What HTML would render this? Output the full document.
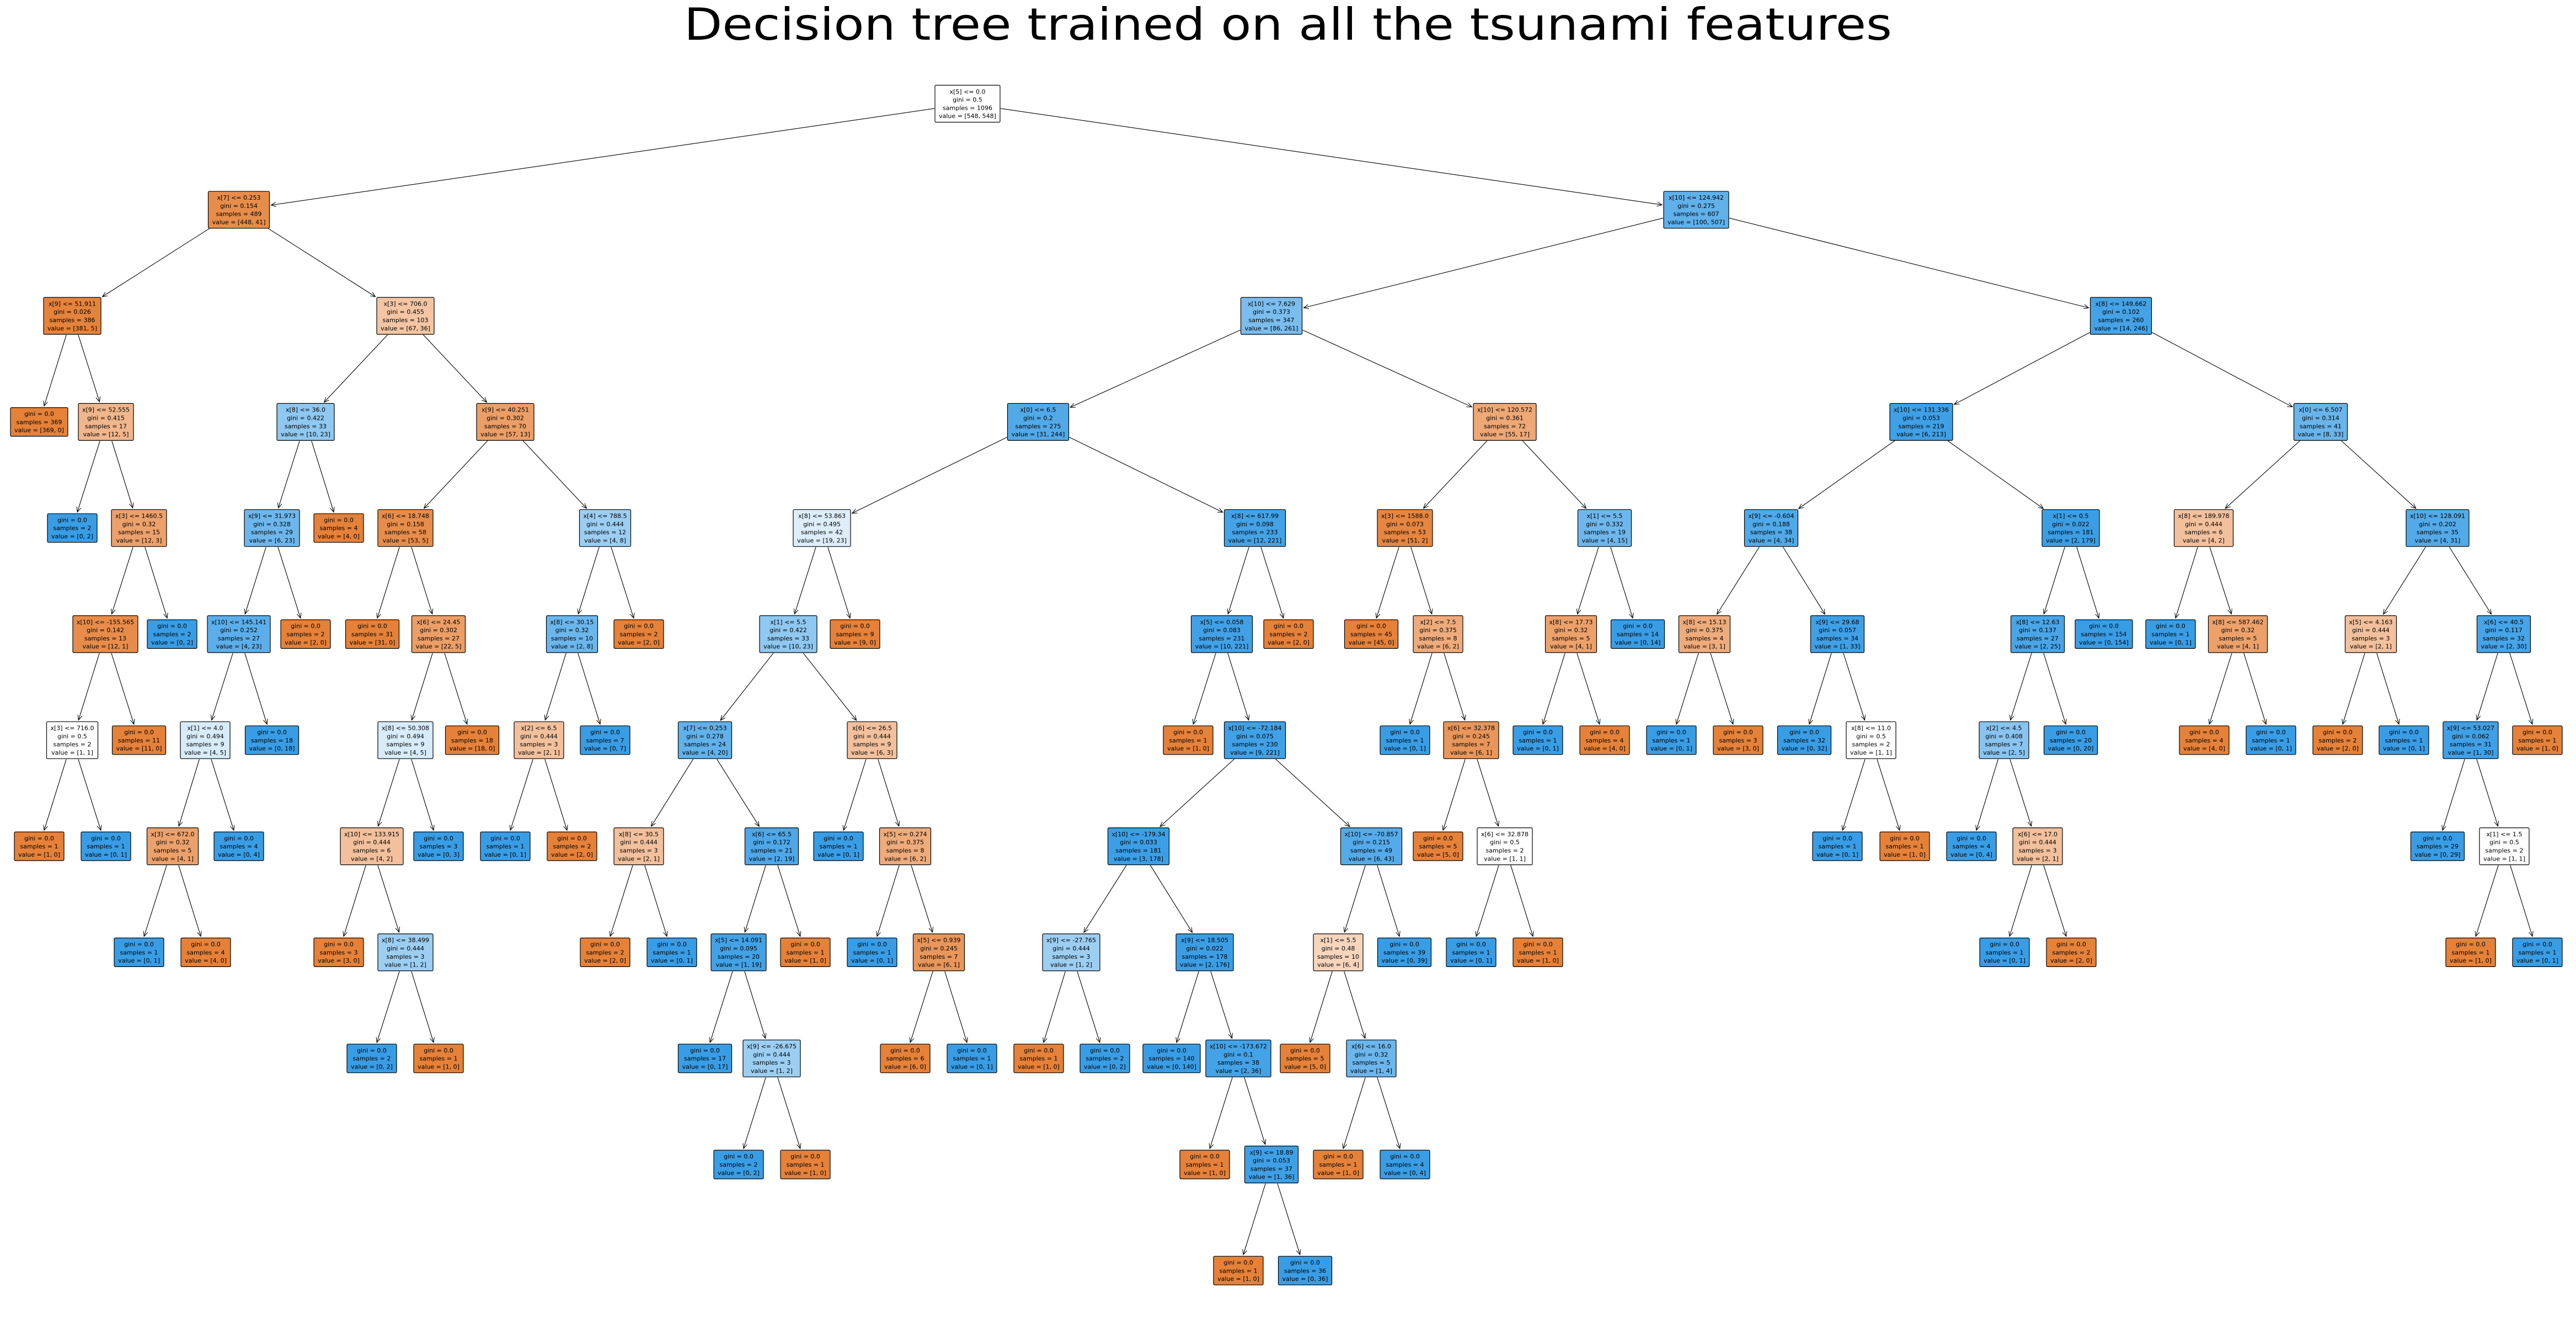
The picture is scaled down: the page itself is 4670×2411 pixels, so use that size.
<!DOCTYPE html>
<html>
<head>
<meta charset="utf-8">
<style>
html,body{margin:0;padding:0;background:#fff;}
svg{display:block;}
text{font-family:"DejaVu Sans","Liberation Sans",sans-serif;}
</style>
</head>
<body>
<svg id="s" xmlns="http://www.w3.org/2000/svg" width="4670" height="2411" viewBox="0 0 4670 2411">
<defs>
<marker id="ah" markerWidth="12" markerHeight="10" refX="10" refY="5" orient="auto" markerUnits="userSpaceOnUse">
<path d="M1,1 L10,5 L1,9" fill="none" stroke="#000" stroke-width="1"/>
</marker>
</defs>
<rect width="4670" height="2411" fill="#fff"/>
<text x="2335" y="72" text-anchor="middle" font-size="80" fill="#000" textLength="2190" lengthAdjust="spacingAndGlyphs">Decision tree trained on all the tsunami features</text>
<g id="edges"></g>
<g id="nodes"></g>
</svg>
<script>
var D=[
[-1,0,1754,"x[5] <= 0.0","0.5",1096,548,548],
[0,1,433,"x[7] <= 0.253","0.154",489,448,41],
[0,1,3075,"x[10] <= 124.942","0.275",607,100,507],
[1,2,131,"x[9] <= 51.911","0.026",386,381,5],
[1,2,735,"x[3] <= 706.0","0.455",103,67,36],
[2,2,2305,"x[10] <= 7.629","0.373",347,86,261],
[2,2,3845,"x[8] <= 149.662","0.102",260,14,246],
[3,3,71,null,"0.0",369,369,0],
[3,3,192,"x[9] <= 52.555","0.415",17,12,5],
[4,3,554,"x[8] <= 36.0","0.422",33,10,23],
[4,3,916,"x[9] <= 40.251","0.302",70,57,13],
[5,3,1882,"x[0] <= 6.5","0.2",275,31,244],
[5,3,2728,"x[10] <= 120.572","0.361",72,55,17],
[6,3,3483,"x[10] <= 131.336","0.053",219,6,213],
[6,3,4207,"x[0] <= 6.507","0.314",41,8,33],
[8,4,131,null,"0.0",2,0,2],
[8,4,252,"x[3] <= 1460.5","0.32",15,12,3],
[9,4,493,"x[9] <= 31.973","0.328",29,6,23],
[9,4,614,null,"0.0",4,4,0],
[10,4,735,"x[6] <= 18.748","0.158",58,53,5],
[10,4,1097,"x[4] <= 788.5","0.444",12,4,8],
[11,4,1490,"x[8] <= 53.863","0.495",42,19,23],
[11,4,2275,"x[8] <= 617.99","0.098",233,12,221],
[12,4,2547,"x[3] <= 1588.0","0.073",53,51,2],
[12,4,2909,"x[1] <= 5.5","0.332",19,4,15],
[13,4,3211,"x[9] <= -0.604","0.188",38,4,34],
[13,4,3754,"x[1] <= 0.5","0.022",181,2,179],
[14,4,3995,"x[8] <= 189.978","0.444",6,4,2],
[14,4,4419,"x[10] <= 128.091","0.202",35,4,31],
[16,5,191,"x[10] <= -155.565","0.142",13,12,1],
[16,5,312,null,"0.0",2,0,2],
[17,5,433,"x[10] <= 145.141","0.252",27,4,23],
[17,5,554,null,"0.0",2,2,0],
[19,5,675,null,"0.0",31,31,0],
[19,5,795,"x[6] <= 24.45","0.302",27,22,5],
[20,5,1037,"x[8] <= 30.15","0.32",10,2,8],
[20,5,1158,null,"0.0",2,2,0],
[21,5,1429,"x[1] <= 5.5","0.422",33,10,23],
[21,5,1550,null,"0.0",9,9,0],
[22,5,2215,"x[5] <= 0.058","0.083",231,10,221],
[22,5,2336,null,"0.0",2,2,0],
[23,5,2486,null,"0.0",45,45,0],
[23,5,2607,"x[2] <= 7.5","0.375",8,6,2],
[24,5,2848,"x[8] <= 17.73","0.32",5,4,1],
[24,5,2969,null,"0.0",14,0,14],
[25,5,3090,"x[8] <= 15.13","0.375",4,3,1],
[25,5,3331,"x[9] <= 29.68","0.057",34,1,33],
[26,5,3694,"x[8] <= 12.63","0.137",27,2,25],
[26,5,3814,null,"0.0",154,0,154],
[27,5,3935,null,"0.0",1,0,1],
[27,5,4057,"x[8] <= 587.462","0.32",5,4,1],
[28,5,4298,"x[5] <= 4.163","0.444",3,2,1],
[28,5,4539,"x[6] <= 40.5","0.117",32,2,30],
[29,6,131,"x[3] <= 716.0","0.5",2,1,1],
[29,6,252,null,"0.0",11,11,0],
[31,6,372,"x[1] <= 4.0","0.494",9,4,5],
[31,6,493,null,"0.0",18,0,18],
[34,6,735,"x[8] <= 50.308","0.494",9,4,5],
[34,6,856,null,"0.0",18,18,0],
[35,6,977,"x[2] <= 6.5","0.444",3,2,1],
[35,6,1097,null,"0.0",7,0,7],
[37,6,1278,"x[7] <= 0.253","0.278",24,4,20],
[37,6,1581,"x[6] <= 26.5","0.444",9,6,3],
[39,6,2154,null,"0.0",1,1,0],
[39,6,2275,"x[10] <= -72.184","0.075",230,9,221],
[42,6,2547,null,"0.0",1,0,1],
[42,6,2667,"x[6] <= 32.378","0.245",7,6,1],
[43,6,2788,null,"0.0",1,0,1],
[43,6,2909,null,"0.0",4,4,0],
[45,6,3030,null,"0.0",1,0,1],
[45,6,3151,null,"0.0",3,3,0],
[46,6,3271,null,"0.0",32,0,32],
[46,6,3392,"x[8] <= 11.0","0.5",2,1,1],
[47,6,3633,"x[2] <= 4.5","0.408",7,2,5],
[47,6,3754,null,"0.0",20,0,20],
[50,6,3996,null,"0.0",4,4,0],
[50,6,4117,null,"0.0",1,0,1],
[51,6,4238,null,"0.0",2,2,0],
[51,6,4358,null,"0.0",1,0,1],
[52,6,4479,"x[9] <= 53.027","0.062",31,1,30],
[52,6,4600,null,"0.0",1,1,0],
[53,7,71,null,"0.0",1,1,0],
[53,7,192,null,"0.0",1,0,1],
[55,7,313,"x[3] <= 672.0","0.32",5,4,1],
[55,7,433,null,"0.0",4,0,4],
[57,7,674,"x[10] <= 133.915","0.444",6,4,2],
[57,7,795,null,"0.0",3,0,3],
[59,7,916,null,"0.0",1,0,1],
[59,7,1037,null,"0.0",2,2,0],
[61,7,1158,"x[8] <= 30.5","0.444",3,2,1],
[61,7,1399,"x[6] <= 65.5","0.172",21,2,19],
[62,7,1520,null,"0.0",1,0,1],
[62,7,1641,"x[5] <= 0.274","0.375",8,6,2],
[64,7,2064,"x[10] <= -179.34","0.033",181,3,178],
[64,7,2486,"x[10] <= -70.857","0.215",49,6,43],
[66,7,2607,null,"0.0",5,5,0],
[66,7,2728,"x[6] <= 32.878","0.5",2,1,1],
[72,7,3331,null,"0.0",1,0,1],
[72,7,3453,null,"0.0",1,1,0],
[73,7,3574,null,"0.0",4,0,4],
[73,7,3694,"x[6] <= 17.0","0.444",3,2,1],
[79,7,4419,null,"0.0",29,0,29],
[79,7,4540,"x[1] <= 1.5","0.5",2,1,1],
[83,8,252,null,"0.0",1,0,1],
[83,8,373,null,"0.0",4,4,0],
[85,8,614,null,"0.0",3,3,0],
[85,8,735,"x[8] <= 38.499","0.444",3,1,2],
[89,8,1097,null,"0.0",2,2,0],
[89,8,1218,null,"0.0",1,0,1],
[90,8,1339,"x[5] <= 14.091","0.095",20,1,19],
[90,8,1460,null,"0.0",1,1,0],
[92,8,1581,null,"0.0",1,0,1],
[92,8,1702,"x[5] <= 0.939","0.245",7,6,1],
[93,8,1942,"x[9] <= -27.765","0.444",3,1,2],
[93,8,2184,"x[9] <= 18.505","0.022",178,2,176],
[94,8,2426,"x[1] <= 5.5","0.48",10,6,4],
[94,8,2546,null,"0.0",39,0,39],
[96,8,2667,null,"0.0",1,0,1],
[96,8,2788,null,"0.0",1,1,0],
[100,8,3634,null,"0.0",1,0,1],
[100,8,3755,null,"0.0",2,2,0],
[102,8,4479,null,"0.0",1,1,0],
[102,8,4600,null,"0.0",1,0,1],
[106,9,674,null,"0.0",2,0,2],
[106,9,795,null,"0.0",1,1,0],
[109,9,1278,null,"0.0",17,0,17],
[109,9,1399,"x[9] <= -26.675","0.444",3,1,2],
[112,9,1641,null,"0.0",6,6,0],
[112,9,1762,null,"0.0",1,0,1],
[113,9,1883,null,"0.0",1,1,0],
[113,9,2003,null,"0.0",2,0,2],
[114,9,2124,null,"0.0",140,0,140],
[114,9,2245,"x[10] <= -173.672","0.1",38,2,36],
[115,9,2366,null,"0.0",5,5,0],
[115,9,2486,"x[6] <= 16.0","0.32",5,1,4],
[126,10,1339,null,"0.0",2,0,2],
[126,10,1460,null,"0.0",1,1,0],
[132,10,2184,null,"0.0",1,1,0],
[132,10,2305,"x[9] <= 18.89","0.053",37,1,36],
[134,10,2426,null,"0.0",1,1,0],
[134,10,2547,null,"0.0",4,0,4],
[138,11,2245,null,"0.0",1,1,0],
[138,11,2366,null,"0.0",36,0,36]
];
var NS="http://www.w3.org/2000/svg";
var gE=document.getElementById("edges"),gN=document.getElementById("nodes");
function el(t,a,p){var e=document.createElementNS(NS,t);for(var k in a)e.setAttribute(k,a[k]);p.appendChild(e);return e;}
function col(a,b){var mx=Math.max(a,b),mn=Math.min(a,b);var al=mx>0?(mx-mn)/mx:0;var base=a>=b?[229,129,57]:[57,157,229];
return "rgb("+base.map(function(c){return Math.round(c*al+255*(1-al));}).join(",")+")";}
var LH=14.8,boxes=[];
D.forEach(function(d,i){
  var cy=188+192.3*d[1],cx=d[2];
  var lines=[];if(d[3])lines.push(d[3]);
  lines.push("gini = "+d[4]);lines.push("samples = "+d[5]);lines.push("value = ["+d[6]+", "+d[7]+"]");
  var g=el("g",{},gN);
  var r=el("rect",{fill:col(d[6],d[7]),stroke:"#000","stroke-width":"1.2",rx:"2",ry:"2"},g);
  var maxw=0,n=lines.length;
  lines.forEach(function(s,j){
    var t=el("text",{x:cx,y:(cy+(j-(n-1)/2)*LH+4).toFixed(1),"text-anchor":"middle","font-size":"11",fill:"#000"},g);
    t.textContent=s;
    var w=0;try{w=t.getComputedTextLength();}catch(e){}
    if(!w)w=s.length*6.2;
    if(w>maxw)maxw=w;
  });
  var bw=Math.round(maxw+14),bh=n==4?67:52;
  r.setAttribute("x",(cx-bw/2).toFixed(1));r.setAttribute("y",(cy-bh/2).toFixed(1));
  r.setAttribute("width",bw);r.setAttribute("height",bh);
  boxes.push({cx:cx,cy:cy,w:bw,h:bh});
});
function clip(b,dx,dy){ // distance factor from center to boundary along (dx,dy)
  var tx=dx!==0?(b.w/2)/Math.abs(dx):1e9,ty=dy!==0?(b.h/2)/Math.abs(dy):1e9;return Math.min(tx,ty);}
D.forEach(function(d,i){
  if(d[0]<0)return;
  var p=boxes[d[0]],c=boxes[i];
  var dx=c.cx-p.cx,dy=c.cy-p.cy,L=Math.sqrt(dx*dx+dy*dy);
  var ux=dx/L,uy=dy/L;
  var tp=clip(p,ux,uy)+1,tc=clip(c,ux,uy)+3;
  el("line",{x1:(p.cx+ux*tp).toFixed(1),y1:(p.cy+uy*tp).toFixed(1),x2:(c.cx-ux*tc).toFixed(1),y2:(c.cy-uy*tc).toFixed(1),stroke:"#000","stroke-width":"1.1","marker-end":"url(#ah)"},gE);
});
</script>
</body>
</html>
